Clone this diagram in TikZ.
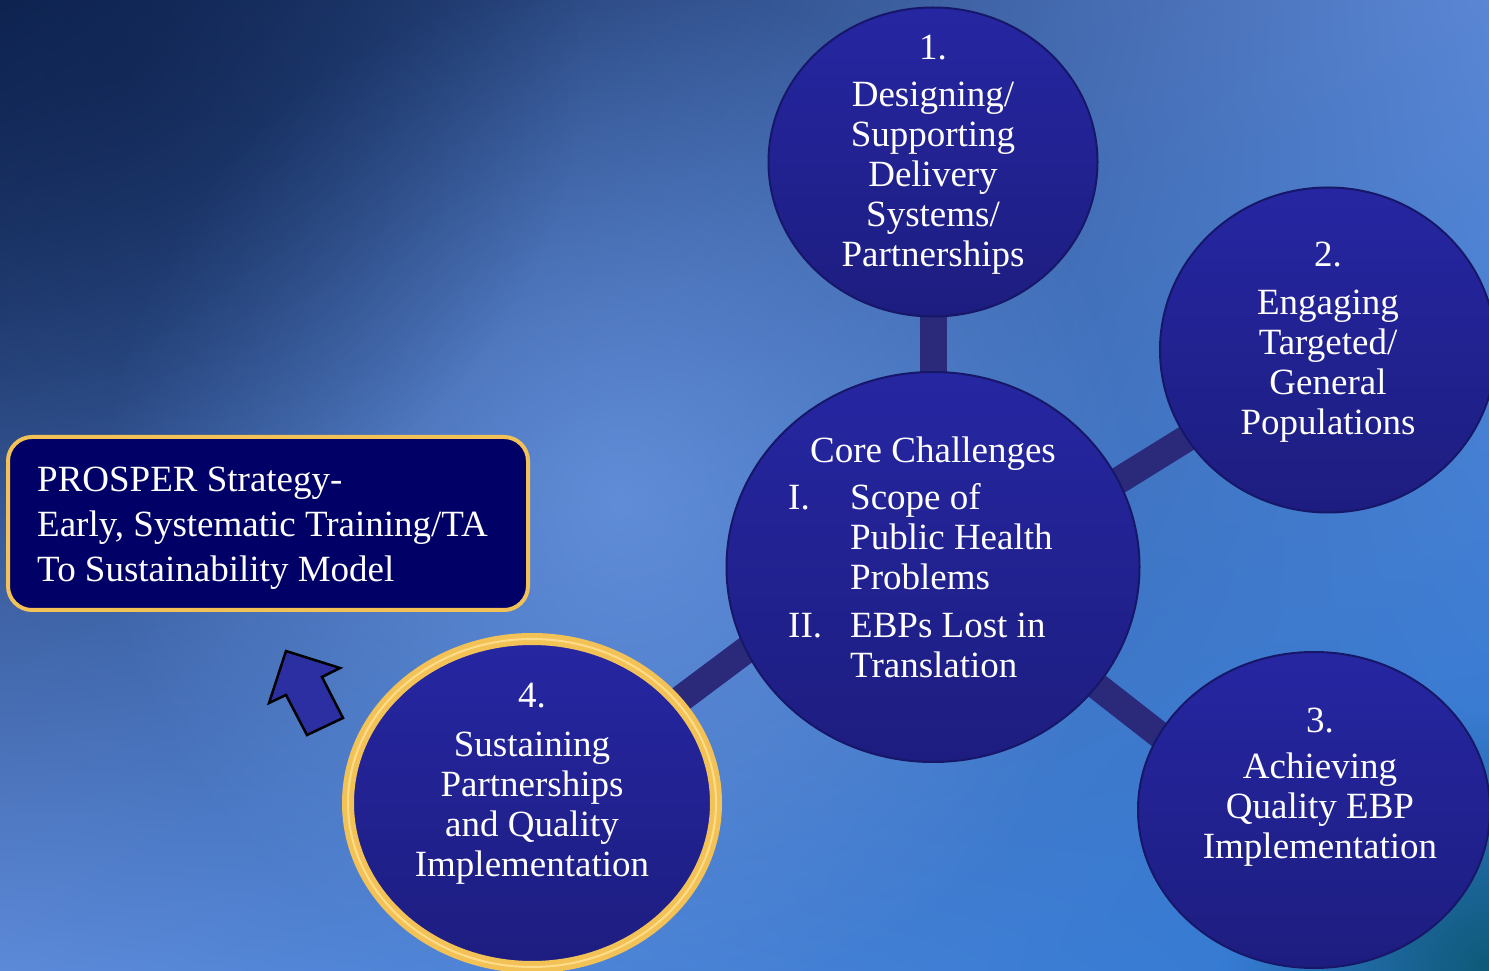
\documentclass[tikz,border=0pt]{standalone}
\usepackage{fontspec}
\setmainfont{Liberation Serif}
\usepackage{xcolor}
\usetikzlibrary{shapes.geometric,fadings,shadings}

\definecolor{bgdark}{HTML}{0E2350}
\definecolor{bgtopright}{HTML}{5A86D4}
\definecolor{bgbotleft}{HTML}{5C89D8}
\definecolor{bgbotright}{HTML}{2E78D2}
\definecolor{bglight}{HTML}{6A96E2}
\definecolor{bgteal}{HTML}{0E5A78}
\definecolor{ballhi}{HTML}{2626A2}
\definecolor{balllo}{HTML}{1D1D80}
\definecolor{ballrim}{HTML}{17176A}
\definecolor{linkbar}{HTML}{2B2A7A}
\definecolor{navybox}{HTML}{000066}
\definecolor{gold}{HTML}{F2C257}
\definecolor{goldhi}{HTML}{FFDC8A}
\definecolor{arrowblue}{HTML}{2B2FA2}

\tikzfading[name=softglow, inner color=transparent!0, outer color=transparent!100]
\pgfdeclarelayer{bg}
\pgfdeclarelayer{links}
\pgfsetlayers{bg,links,main}

\tikzset{
	ball/.style={ellipse, top color=ballhi, bottom color=balllo, draw=ballrim, line width=2pt, inner sep=0pt},
	goldball/.style={ball, draw=gold, line width=12pt, postaction={draw=goldhi, line width=2pt}},
	balltext/.style={text=white, inner sep=0pt, font=\fontsize{37}{40}\selectfont},
	link/.style={draw=linkbar, line width=27pt, shorten <=-14pt, shorten >=-14pt},
	probox/.style={rectangle, rounded corners=24pt, fill=navybox, draw=gold, line width=4pt,
		minimum width=520pt, minimum height=173pt},
}

\begin{document}
\begin{tikzpicture}[x=1pt,y=1pt]
			\useasboundingbox (0,0) rectangle (1489,970);
			% Vẽ nền
			\begin{pgfonlayer}{bg}
				\shade[upper left=bgdark, upper right=bgtopright, lower left=bgbotleft, lower right=bgbotright]
					(0,0) rectangle (1489,970);
				\fill[bglight, opacity=0.8, path fading=softglow] (620,470) circle (520);
				\fill[bgdark, opacity=0.6, path fading=softglow] (120,900) circle (460);
				\fill[bgteal, path fading=softglow] (1489,0) circle (260);
			\end{pgfonlayer}
			% Vẽ các hình tròn
			\node[ball, minimum width=329pt, minimum height=309pt] (one) at (933,808) {};
			\node[ball, minimum width=336pt, minimum height=325pt] (two) at (1328,620) {};
			\node[ball, minimum width=352pt, minimum height=316pt] (three) at (1314,160) {};
			\node[goldball, minimum width=368pt, minimum height=328pt] (four) at (532,167) {};
			\node[ball, minimum width=413pt, minimum height=390pt] (core) at (933,403) {};
			% Vẽ đường nối
			\begin{pgfonlayer}{links}
				\draw[link] (core.90) -- (one.270);
				\draw[link] (core.25) -- (two.212);
				\draw[link] (core.-36) -- (three.154);
				\draw[link] (core.204) -- (four.35);
			\end{pgfonlayer}
			% Chữ trong các hình tròn
			\node[balltext, anchor=base] (onetext) at (933,910) {\begin{tabular}[t]{@{}c@{}}
				1.\\[7pt] Designing/\\ Supporting\\ Delivery\\ Systems/\\ Partnerships\end{tabular}};
			\node[balltext, anchor=base] (twotext) at (1328,703) {\begin{tabular}[t]{@{}c@{}}
				2.\\[8pt] Engaging\\ Targeted/\\ General\\ Populations\end{tabular}};
			\node[balltext, anchor=base] (threetext) at (1320,237) {\begin{tabular}[t]{@{}c@{}}
				3.\\[6pt] Achieving\\ Quality EBP\\ Implementation\end{tabular}};
			\node[balltext, anchor=base] (fourtext) at (532,262) {\begin{tabular}[t]{@{}c@{}}
				4.\\[9pt] Sustaining\\ Partnerships\\ and Quality\\ Implementation\end{tabular}};
			\node[balltext, anchor=base] (corehead) at (933,507) {Core Challenges};
			\node[balltext, anchor=base west] (corelist) at (788,460) {\begin{tabular}[t]{@{}p{62pt}@{}l@{}}
				I. & Scope of\\ & Public Health\\ & Problems\\[8pt] II. & EBPs Lost in\\ & Translation\end{tabular}};
			% Vẽ hộp và mũi tên
			\node[probox] (strategy) at (268,446.5) {};
			\node[text=white, inner sep=0pt, font=\fontsize{37}{45}\selectfont, anchor=base west] (strategytext)
				at (37,478) {\begin{tabular}[t]{@{}l@{}}PROSPER Strategy-\\ Early, Systematic Training/TA\\ To Sustainability Model\end{tabular}};
			\draw[fill=arrowblue, line width=2.5pt, line join=miter] (286,319) -- (340,302) -- (322,293) -- (343,252)
				-- (307,235) -- (286,275) -- (269,267) -- cycle;
		\end{tikzpicture}
\end{document}
